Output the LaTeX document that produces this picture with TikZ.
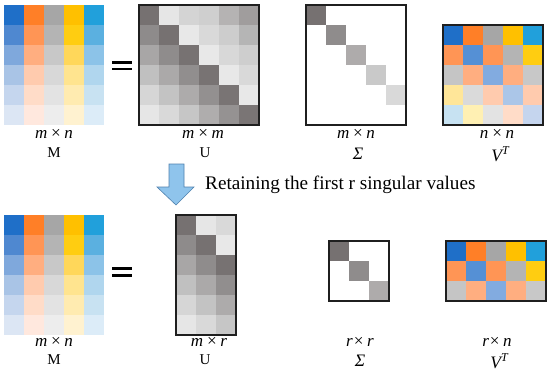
\documentclass[tikz,border=0pt]{standalone}
\usepackage{fontspec}
\setmainfont{Liberation Serif}
\begin{document}
\newcommand\mygrid[3]{%
  \foreach \row [count=\r from 0] in {#3} {%
    \foreach \h [count=\c from 0] in \row {%
      \definecolor{tmpc}{HTML}{\h}%
      \fill[tmpc] ({#1+20*\c},{#2+20*\r}) rectangle +(20,20);
    }%
  }%
}
\newcommand\vtlab{\textit{V}\raisebox{0.4em}{\fontsize{12}{13}\selectfont\textit{T}}}
\begin{tikzpicture}[x=1pt,y=-1pt,
  frame/.style={draw=black!88,line width=1.5pt},
  eqbar/.style={line width=2.6pt,black},
  dimlab/.style={font=\fontsize{17}{20}\selectfont\itshape,inner sep=0pt},
  namelab/.style={font=\fontsize{15}{18}\selectfont,inner sep=0pt},
  greeklab/.style={font=\fontsize{17.5}{20}\selectfont\itshape,inner sep=0pt,text depth=0pt},
  ]
\fill[white] (0,0) rectangle (550,372);
\useasboundingbox (0,0) rectangle (550,372);
% ---------- top row ----------
% M
\mygrid{4}{5}{{1F6FC8,FF7F27,A6A6A6,FFC000,21A0DB},
{4F88D0,FF9555,B4B4B4,FFCD11,5BB0E0},
{7FA8DC,FFAE80,C8C8C8,FFD75A,8CC3E8},
{A9C4E6,FFCBAE,D8D8D8,FFE48F,B0D6EE},
{C5D6EE,FFDCC8,E3E3E3,FFEBB0,C8E2F2},
{DCE6F4,FFE8DE,EDEDED,FFF2D0,DCECF8}}
% =
\draw[eqbar] (112,62.3) -- (132,62.3);
\draw[eqbar] (112,69) -- (132,69);
% U
\mygrid{139}{5}{{767171,E6E6E6,D4D4D4,CFCFCF,B5B3B3,A09D9D},
{8E8B8B,767171,E8E8E8,D9D9D9,CDCDCD,B5B5B5},
{A8A6A6,8F8C8C,777272,E8E8E8,D8D8D8,CECECE},
{C0C0C0,ABA9A9,918E8E,787373,E8E8E8,D9D9D9},
{D6D6D6,C3C3C3,ADABAB,939090,797474,E8E8E8},
{E6E6E6,D9D9D9,C6C6C6,AFADAD,959292,7A7575}}
\draw[frame] (139,5) rectangle (259,125);
% Sigma
\mygrid{306}{5}{{767171,FFFFFF,FFFFFF,FFFFFF,FFFFFF},
{FFFFFF,8F8C8C,FFFFFF,FFFFFF,FFFFFF},
{FFFFFF,FFFFFF,AEABAB,FFFFFF,FFFFFF},
{FFFFFF,FFFFFF,FFFFFF,C9C9C9,FFFFFF},
{FFFFFF,FFFFFF,FFFFFF,FFFFFF,D9D9D9}}
\draw[frame] (306,5) rectangle (406,125);
% V^T
\mygrid{443}{25}{{1F6FC8,FF7F27,A6A6A6,FFC000,21A0DB},
{FF9555,5590D5,FF9555,B4B4B4,FFCD11},
{C5C5C5,FFAE80,82ABE0,FFAE80,C8C8C8},
{FFE699,DADADA,FFCBAE,ABC6E8,FFCBAE},
{C7E2F2,FFF0B3,E3E3E3,FFDCC8,C5D5EE}}
\draw[frame] (443,25) rectangle (543,125);
% labels top
\node[dimlab] (d1) at (54,134) {m\,×\,n};
\node[namelab] (n1) at (54,153) {M};
\node[dimlab] (d2) at (203,134) {m\,×\,m};
\node[namelab] (n2) at (205,153) {U};
\node[dimlab] (d3) at (356,134) {m\,×\,n};
\node[greeklab] (n3) at (358,154) {Σ};
\node[dimlab] (d4) at (497,134) {n\,×\,n};
\node[greeklab] (n4) at (500,154) {\vtlab};
% ---------- arrow ----------
\draw[draw={rgb,255:red,80;green,130;blue,175},fill={rgb,255:red,143;green,196;blue,236},line width=0.6pt,line join=miter]
  (169,164) -- (184,164) -- (184,187) -- (194,187) -- (176,205) -- (157,187) -- (169,187) -- cycle;
\node[anchor=base west,inner sep=0pt,font=\fontsize{19.2}{23}\selectfont] (ret) at (205,189) {Retaining the first r singular values};
% ---------- bottom row ----------
\mygrid{4}{215}{{1F6FC8,FF7F27,A6A6A6,FFC000,21A0DB},
{4F88D0,FF9555,B4B4B4,FFCD11,5BB0E0},
{7FA8DC,FFAE80,C8C8C8,FFD75A,8CC3E8},
{A9C4E6,FFCBAE,D8D8D8,FFE48F,B0D6EE},
{C5D6EE,FFDCC8,E3E3E3,FFEBB0,C8E2F2},
{DCE6F4,FFE8DE,EDEDED,FFF2D0,DCECF8}}
\draw[eqbar] (112,268.5) -- (132,268.5);
\draw[eqbar] (112,275.5) -- (132,275.5);
\mygrid{176}{215}{{767171,E6E6E6,D9D9D9},
{8E8B8B,767171,E8E8E8},
{A8A6A6,8F8C8C,777272},
{C0C0C0,ABA9A9,918E8E},
{D6D6D6,C3C3C3,ADABAB},
{E6E6E6,D9D9D9,C6C6C6}}
\draw[frame] (176,215) rectangle (236,335);
\mygrid{329}{241}{{767171,FFFFFF,FFFFFF},
{FFFFFF,8F8C8C,FFFFFF},
{FFFFFF,FFFFFF,AEABAB}}
\draw[frame] (329,241) rectangle (389,301);
\mygrid{446}{241}{{1F6FC8,FF7F27,A6A6A6,FFC000,21A0DB},
{FF9555,5590D5,FF9555,B4B4B4,FFCD11},
{C5C5C5,FFAE80,82ABE0,FFAE80,C8C8C8}}
\draw[frame] (446,241) rectangle (546,301);
% labels bottom
\node[dimlab] (d5) at (54,342) {m\,×\,n};
\node[namelab] (n5) at (54,360) {M};
\node[dimlab] (d6) at (209,342) {m\,×\,r};
\node[namelab] (n6) at (205,360) {U};
\node[dimlab] (d7) at (360,342) {r×\,r};
\node[greeklab] (n7) at (360,361) {Σ};
\node[dimlab] (d8) at (497,342) {r×\,n};
\node[greeklab] (n8) at (499,361) {\vtlab};
\end{tikzpicture}
\end{document}
